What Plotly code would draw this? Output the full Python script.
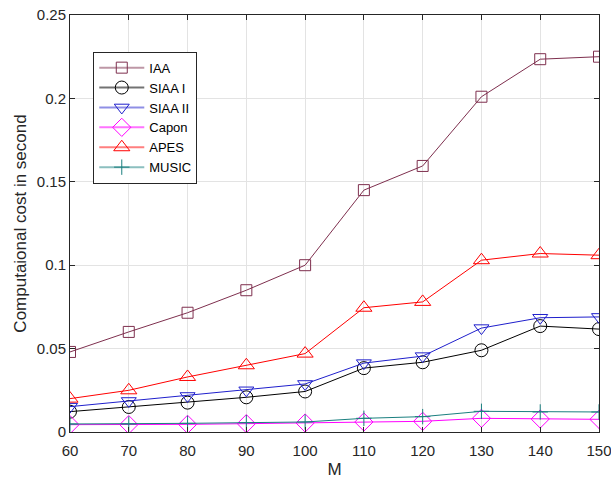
import plotly.graph_objects as go

# Array length M
m_values = [60, 70, 80, 90, 100, 110, 120, 130, 140, 150]

# Computational cost (seconds) for each method
iaa = [0.048, 0.060, 0.0715, 0.085, 0.100, 0.145, 0.1595, 0.201, 0.2235, 0.225]
siaa_1 = [0.0122, 0.015, 0.0176, 0.0208, 0.0243, 0.0383, 0.0418, 0.049, 0.0635, 0.0617]
siaa_2 = [0.0152, 0.0186, 0.0216, 0.0250, 0.0288, 0.0413, 0.0455, 0.0623, 0.0685, 0.069]
capon = [0.0044, 0.0044, 0.0046, 0.0050, 0.0054, 0.0060, 0.0064, 0.0082, 0.0078, 0.0076]
apes = [0.020, 0.025, 0.033, 0.040, 0.047, 0.0745, 0.078, 0.103, 0.107, 0.106]
music = [0.0048, 0.0048, 0.0052, 0.0056, 0.0060, 0.0082, 0.0092, 0.0124, 0.0120, 0.0120]

x_ticks = [60, 70, 80, 90, 100, 110, 120, 130, 140, 150]
y_ticks = [0, 0.05, 0.1, 0.15, 0.2, 0.25]
y_tick_text = ["0", "0.05", "0.1", "0.15", "0.2", "0.25"]

FONT = "Liberation Sans, Arial, Helvetica, sans-serif"
INK = "#262626"

# name, values, colour, faded legend line colour, marker symbol, marker size
series = [
    ("IAA", iaa, "#7E2F4E", "rgba(126,47,78,0.5)", "square-open", 11),
    ("SIAA I", siaa_1, "#000000", "rgba(0,0,0,0.55)", "circle-open", 13),
    ("SIAA II", siaa_2, "#1F1FCC", "rgba(31,31,204,0.5)", "triangle-down-open", 13),
    ("Capon", capon, "#FF00FF", "rgba(255,0,255,0.55)", "diamond-open", 14),
    ("APES", apes, "#FF0000", "rgba(255,0,0,0.5)", "triangle-up-open", 14),
    ("MUSIC", music, "#1A7F7F", "rgba(26,127,127,0.5)", "cross-thin-open", 11),
]

fig = go.Figure()
for name, vals, color, faded, symbol, size in series:
    fig.add_trace(go.Scatter(
        x=m_values, y=vals, name=name, mode="lines+markers", showlegend=False,
        line=dict(color=color, width=1),
        marker=dict(symbol=symbol, size=size, color=color,
                    line=dict(color=color, width=1)),
    ))

# Legend entries: faded sample line with the solid marker on top
for name, vals, color, faded, symbol, size in series:
    fig.add_trace(go.Scatter(
        x=[None], y=[None], name=name, mode="lines+markers", showlegend=True,
        line=dict(color=faded, width=2),
        marker=dict(symbol=symbol, size=size, color=color,
                    line=dict(color=color, width=1)),
    ))

axis_common = dict(
    showgrid=True, gridcolor="#E3E3E3", gridwidth=1,
    showline=True, linecolor=INK, linewidth=1, mirror="ticks",
    ticks="inside", ticklen=5, tickcolor=INK,
    zeroline=False, automargin=False, ticklabeloverflow="allow",
    tickfont=dict(family=FONT, size=15, color=INK),
)

fig.update_xaxes(
    range=[60, 150], tickvals=x_ticks, ticklabelstandoff=5,
    title=dict(text="M", font=dict(family=FONT, size=17, color=INK), standoff=11),
    **axis_common,
)
fig.update_yaxes(
    range=[0, 0.25], tickvals=y_ticks, ticktext=y_tick_text,
    title=dict(text="Computaional cost in second", font=dict(family=FONT, size=17, color=INK), standoff=5),
    **axis_common,
)

fig.update_layout(
    width=611, height=479,
    margin=dict(l=70, r=12, t=15, b=47),
    plot_bgcolor="white", paper_bgcolor="white",
    showlegend=True,
    legend=dict(
        x=0.044, y=0.912, xanchor="left", yanchor="top",
        bgcolor="white", bordercolor=INK, borderwidth=1,
        font=dict(family=FONT, size=13, color="#000000"),
        tracegroupgap=0, itemwidth=45,
    ),
)

fig.write_html("out.html")
